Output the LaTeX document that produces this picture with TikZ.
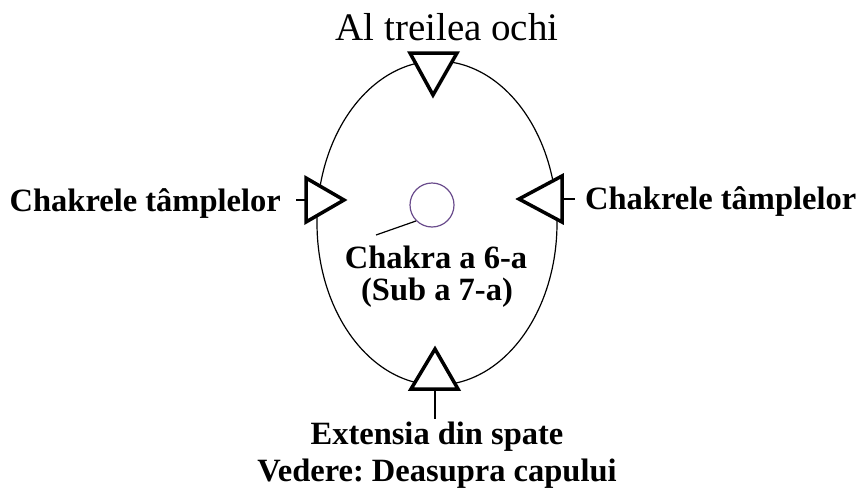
\documentclass[tikz,border=0pt]{standalone}
\usepackage{fontspec}
\setmainfont{Liberation Serif}
\frenchspacing
\definecolor{ringcol}{HTML}{6A4C8C}
\begin{document}
\begin{tikzpicture}[x=1pt,y=-1pt,
  tri/.style={draw=black,line width=3.5pt,line join=miter,fill=white},
  lbl/.style={font=\fontsize{32.5}{34}\selectfont\bfseries,inner sep=0pt},
  thin/.style={draw=black,line width=1.2pt}]
\useasboundingbox[fill=white] (0,0) rectangle (861,498);
% head outline
\draw[thin] (437,223) ellipse [x radius=120, y radius=162];
% markers
\coordinate (tA) at (433,95);
\draw[tri] (410,53) -- (457,53) -- (tA) -- cycle;
\coordinate (tB) at (435,349);
\draw[tri] (411,389) -- (458,389) -- (tB) -- cycle;
\coordinate (tL) at (344,200);
\draw[tri] (306,178) -- (306,222) -- (tL) -- cycle;
\coordinate (tR) at (519,199);
\draw[tri] (562,176) -- (562,222) -- (tR) -- cycle;
% chakra circle
\node[draw=ringcol,line width=1.2pt,circle,minimum size=44pt,inner sep=0pt] (ch) at (432,205) {};
% labels
\node[font=\fontsize{39}{41}\selectfont,inner sep=0pt] (top) at (447,27) {Al treilea ochi};
\node[lbl,anchor=east] (left) at (281,203) {Chakrele tâmplelor};
\node[lbl,anchor=west] (right) at (585,201) {Chakrele tâmplelor};
\node[lbl] (c6) at (436,257) {Chakra a 6-a};
\node[lbl] (c7) at (437,293) {(Sub a 7-a)};
\node[lbl] (ext) at (437,437) {Extensia din spate};
\node[lbl] (ved) at (437,474) {Vedere: Deasupra capului};
% leaders
\coordinate (lA) at (296,200);
\coordinate (lB) at (306,200);
\draw[thin] (lA) -- (lB);
\coordinate (rA) at (562,199);
\coordinate (rB) at (575,199);
\draw[thin] (rA) -- (rB);
\coordinate (bA) at (435,390);
\coordinate (bB) at (435,419);
\draw[line width=1.5pt] (bA) -- (bB);
\coordinate (cL) at (376,235);
\draw[thin] (ch.225) -- (cL);
\end{tikzpicture}
\end{document}
